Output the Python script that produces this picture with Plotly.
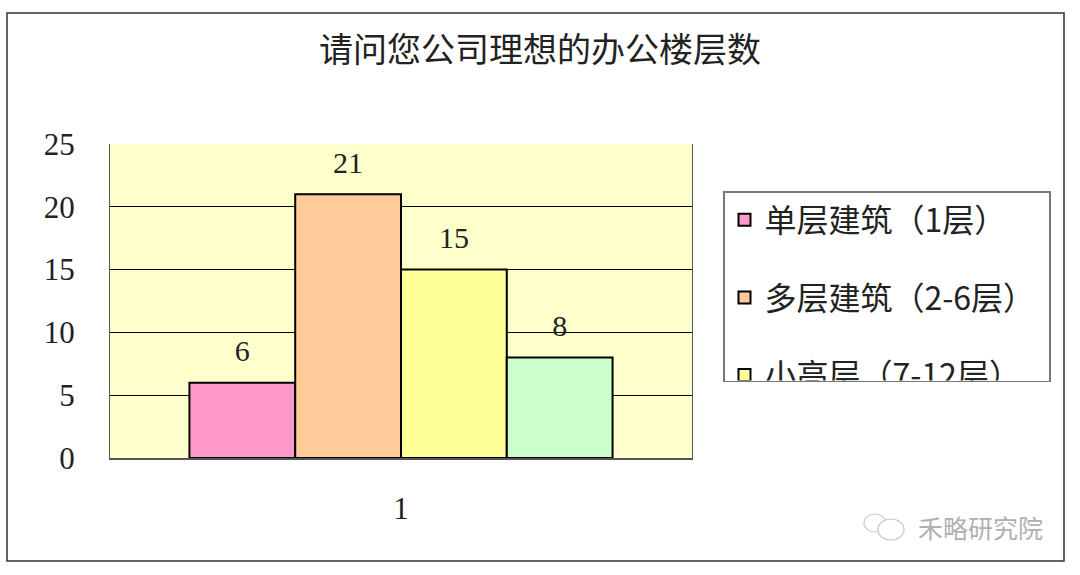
import plotly.graph_objects as go

title = "请问您公司理想的办公楼层数"
category = ["1"]
series_names = ["单层建筑（1层）", "多层建筑（2-6层）", "小高层（7-12层）", "高层（12层以上）"]
series_values = [6, 21, 15, 8]
series_colors = ["#FF99CC", "#FFCC99", "#FFFF99", "#CCFFCC"]
y_ticks = [0, 5, 10, 15, 20, 25]
watermark = "禾略研究院"

fig = go.Figure()
for name, val, col in zip(series_names, series_values, series_colors):
    fig.add_trace(go.Bar(
        x=category, y=[val], name=name, legendgroup=name,
        marker=dict(color=col, line=dict(color="black", width=2)),
        text=[val], texttemplate="<span style='font-size:30px'>%{text}</span><br> ",
        textposition="outside", constraintext="none", cliponaxis=False,
        textfont=dict(family="Liberation Serif", size=12, color="#222"),
    ))

fig.update_layout(
    width=1080, height=575,
    margin=dict(l=110, r=388, t=144, b=117),
    paper_bgcolor="white", plot_bgcolor="#FFFFCC",
    barmode="group", bargap=0.273,
    title=dict(text=title, x=0.5, xref="container", xanchor="center",
               y=1 - 50 / 575, yref="container", yanchor="middle",
               font=dict(family="Noto Sans CJK SC", size=34, color="#222")),
    legend=dict(x=(723 - 110) / 582, xanchor="left", y=(458 - 191) / 314, yanchor="top",
                bgcolor="white", bordercolor="#777", borderwidth=1.5,
                font=dict(family="Noto Sans CJK SC", size=32, color="#222"),
                tracegroupgap=33, maxheight=191),
    showlegend=True,
)
fig.update_xaxes(showline=True, linecolor="#555", linewidth=1.5, ticks="",
                 ticklabelstandoff=22,
                 tickfont=dict(family="Liberation Serif", size=31, color="#222"))
fig.update_yaxes(range=[0, 25], tickvals=y_ticks, showgrid=True, gridcolor="black",
                 gridwidth=1, zeroline=False, showline=True, mirror=True,
                 linecolor="#555", linewidth=1.2, ticks="", ticklabelstandoff=28,
                 tickfont=dict(family="Liberation Serif", size=31, color="#222"))

# outer chart frame
fig.add_shape(type="rect", xref="paper", yref="paper",
              x0=(7 - 110) / 582, x1=(1064 - 110) / 582,
              y0=(458 - 561) / 314, y1=(458 - 13) / 314,
              line=dict(color="#333", width=1.5), fillcolor="rgba(0,0,0,0)", layer="below")

# watermark
fig.add_annotation(text=watermark, xref="paper", yref="paper",
                   x=(1045 - 110) / 582, y=(458 - 527) / 314, xanchor="right", yanchor="middle",
                   showarrow=False, font=dict(family="Noto Sans CJK SC", size=25, color="#B0B0B0"))
fig.add_shape(type="circle", xref="paper", yref="paper",
              x0=(864 - 110) / 582, x1=(886 - 110) / 582,
              y0=(458 - 532) / 314, y1=(458 - 514) / 314,
              line=dict(color="#C8C8C8", width=1.2))
fig.add_shape(type="circle", xref="paper", yref="paper",
              x0=(878 - 110) / 582, x1=(904 - 110) / 582,
              y0=(458 - 540) / 314, y1=(458 - 519) / 314,
              line=dict(color="#C8C8C8", width=1.2), fillcolor="white")

post = """
document.body.style.margin = '0';
var st = document.createElement('style');
st.textContent = '.legend .scrollbar{opacity:0 !important;}';
document.head.appendChild(st);
"""
fig.write_html("out.html", post_script=post, config={"displayModeBar": False})
